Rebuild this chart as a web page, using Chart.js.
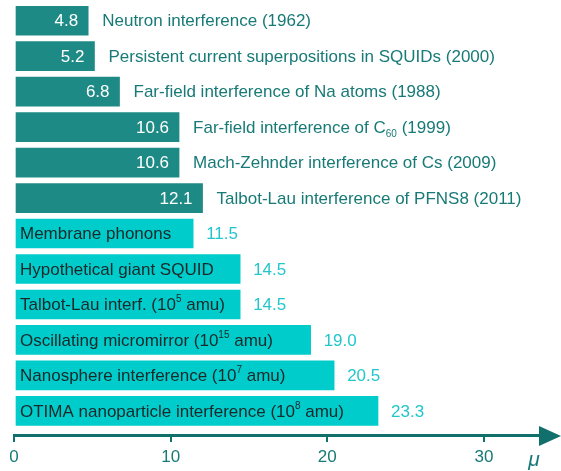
<!DOCTYPE html>
<html>
<head>
<meta charset="utf-8">
<script src="https://cdn.jsdelivr.net/npm/chart.js@4/dist/chart.umd.min.js"></script>
<style>
  html, body { margin: 0; padding: 0; background: #fff; }
  #wrap { width: 561px; height: 471px; }
</style>
</head>
<body>
<div id="wrap"><canvas id="chart" width="561" height="471"></canvas></div>
<script>
// datos
const labels = [
  "Neutron interference (1962)",
  "Persistent current superpositions in SQUIDs (2000)",
  "Far-field interference of Na atoms (1988)",
  "Far-field interference of C_{60} (1999)",
  "Mach-Zehnder interference of Cs (2009)",
  "Talbot-Lau interference of PFNS8 (2011)",
  "Membrane phonons",
  "Hypothetical giant SQUID",
  "Talbot-Lau interf. (10^{5} amu)",
  "Oscillating micromirror (10^{15} amu)",
  "Nanosphere interference (10^{7} amu)",
  "OTIMA nanoparticle interference (10^{8} amu)"
];
const values = [4.8, 5.2, 6.8, 10.6, 10.6, 12.1, 11.5, 14.5, 14.5, 19.0, 20.5, 23.3];
const realizado = [true, true, true, true, true, true, false, false, false, false, false, false];
const xTicks = [0, 10, 20, 30];
const axisLabel = "μ";

const DARK = "#1e8a85";
const CYAN = "#00cccc";
const TEAL_TEXT = "#177a76";
const AXIS = "#11706c";
const CYAN_TEXT = "#22c6cc";
const INK = "#1b2828";
const FONT = '"Liberation Sans", Arial, sans-serif';

// texto con sub/superindices: C_{60}, 10^{5}
function parseRich(str) {
  const parts = [];
  const re = /([_^])\{([^}]*)\}/g;
  let last = 0, m;
  while ((m = re.exec(str))) {
    if (m.index > last) parts.push({ t: str.slice(last, m.index), k: "n" });
    parts.push({ t: m[2], k: m[1] === "_" ? "sub" : "sup" });
    last = re.lastIndex;
  }
  if (last < str.length) parts.push({ t: str.slice(last), k: "n" });
  return parts;
}

function drawRich(ctx, str, x, y, color) {
  ctx.fillStyle = color;
  ctx.textBaseline = "middle";
  ctx.textAlign = "left";
  let cx = x;
  parseRich(str).forEach(p => {
    let dy = 0;
    if (p.k === "n") ctx.font = `17px ${FONT}`;
    else {
      ctx.font = `10px ${FONT}`;
      dy = p.k === "sup" ? -6 : 6;
    }
    ctx.fillText(p.t, cx, y + dy);
    cx += ctx.measureText(p.t).width;
  });
}

const barLabels = {
  id: "barLabels",
  afterDatasetsDraw(chart) {
    const ctx = chart.ctx;
    const meta = chart.getDatasetMeta(0);
    ctx.save();
    meta.data.forEach((bar, i) => {
      const end = bar.x, start = bar.base, y = bar.y + 1;
      const txt = values[i].toFixed(1);
      if (realizado[i]) {
        ctx.font = `17px ${FONT}`;
        ctx.fillStyle = "#ffffff";
        ctx.textAlign = "right";
        ctx.textBaseline = "middle";
        ctx.fillText(txt, end - 11, y);
        drawRich(ctx, labels[i], end + 13, y, TEAL_TEXT);
      } else {
        drawRich(ctx, labels[i], start + 5, y, INK);
        ctx.font = `17px ${FONT}`;
        ctx.fillStyle = CYAN_TEXT;
        ctx.textAlign = "left";
        ctx.textBaseline = "middle";
        ctx.fillText(txt, end + 12, y);
      }
    });
    ctx.restore();
  },
  afterDraw(chart) {
    // punta de flecha del eje y etiqueta mu
    const ctx = chart.ctx;
    const a = chart.chartArea;
    const yAxis = a.bottom + 1;
    ctx.save();
    ctx.fillStyle = AXIS;
    ctx.beginPath();
    ctx.moveTo(a.right - 2, yAxis - 10);
    ctx.lineTo(561, yAxis);
    ctx.lineTo(a.right - 2, yAxis + 10);
    ctx.closePath();
    ctx.fill();
    ctx.font = `italic 21px ${FONT}`;
    ctx.fillStyle = TEAL_TEXT;
    ctx.textAlign = "center";
    ctx.textBaseline = "alphabetic";
    ctx.fillText(axisLabel, 534, 466);
    ctx.restore();
  }
};

new Chart(document.getElementById("chart"), {
  type: "bar",
  data: {
    datasets: [{
      data: values.map((v, i) => ({ x: v, y: i })),
      backgroundColor: realizado.map(r => r ? DARK : CYAN),
      borderColor: "rgba(255,255,255,0.55)",
      borderWidth: 1,
      borderSkipped: false,
      barThickness: 31
    }]
  },
  options: {
    indexAxis: "y",
    responsive: false,
    animation: false,
    layout: { padding: { left: 14, right: 20, top: 3, bottom: 0 } },
    plugins: { legend: { display: false }, tooltip: { enabled: false } },
    scales: {
      x: {
        type: "linear",
        min: 0,
        max: 33.64,
        afterBuildTicks: s => { s.ticks = xTicks.map(v => ({ value: v })); },
        afterFit: s => { s.height = 36; },
        ticks: {
          includeBounds: false,
          color: TEAL_TEXT,
          font: { family: FONT, size: 17 },
          padding: 5,
          maxRotation: 0
        },
        grid: {
          drawOnChartArea: false,
          drawTicks: true,
          tickLength: 7,
          color: AXIS,
          lineWidth: 2
        },
        border: { display: true, color: AXIS, width: 3 }
      },
      y: {
        type: "linear",
        reverse: true,
        offset: false,
        min: -0.5,
        max: 11.68,
        display: false
      }
    }
  },
  plugins: [barLabels]
});
</script>
</body>
</html>
